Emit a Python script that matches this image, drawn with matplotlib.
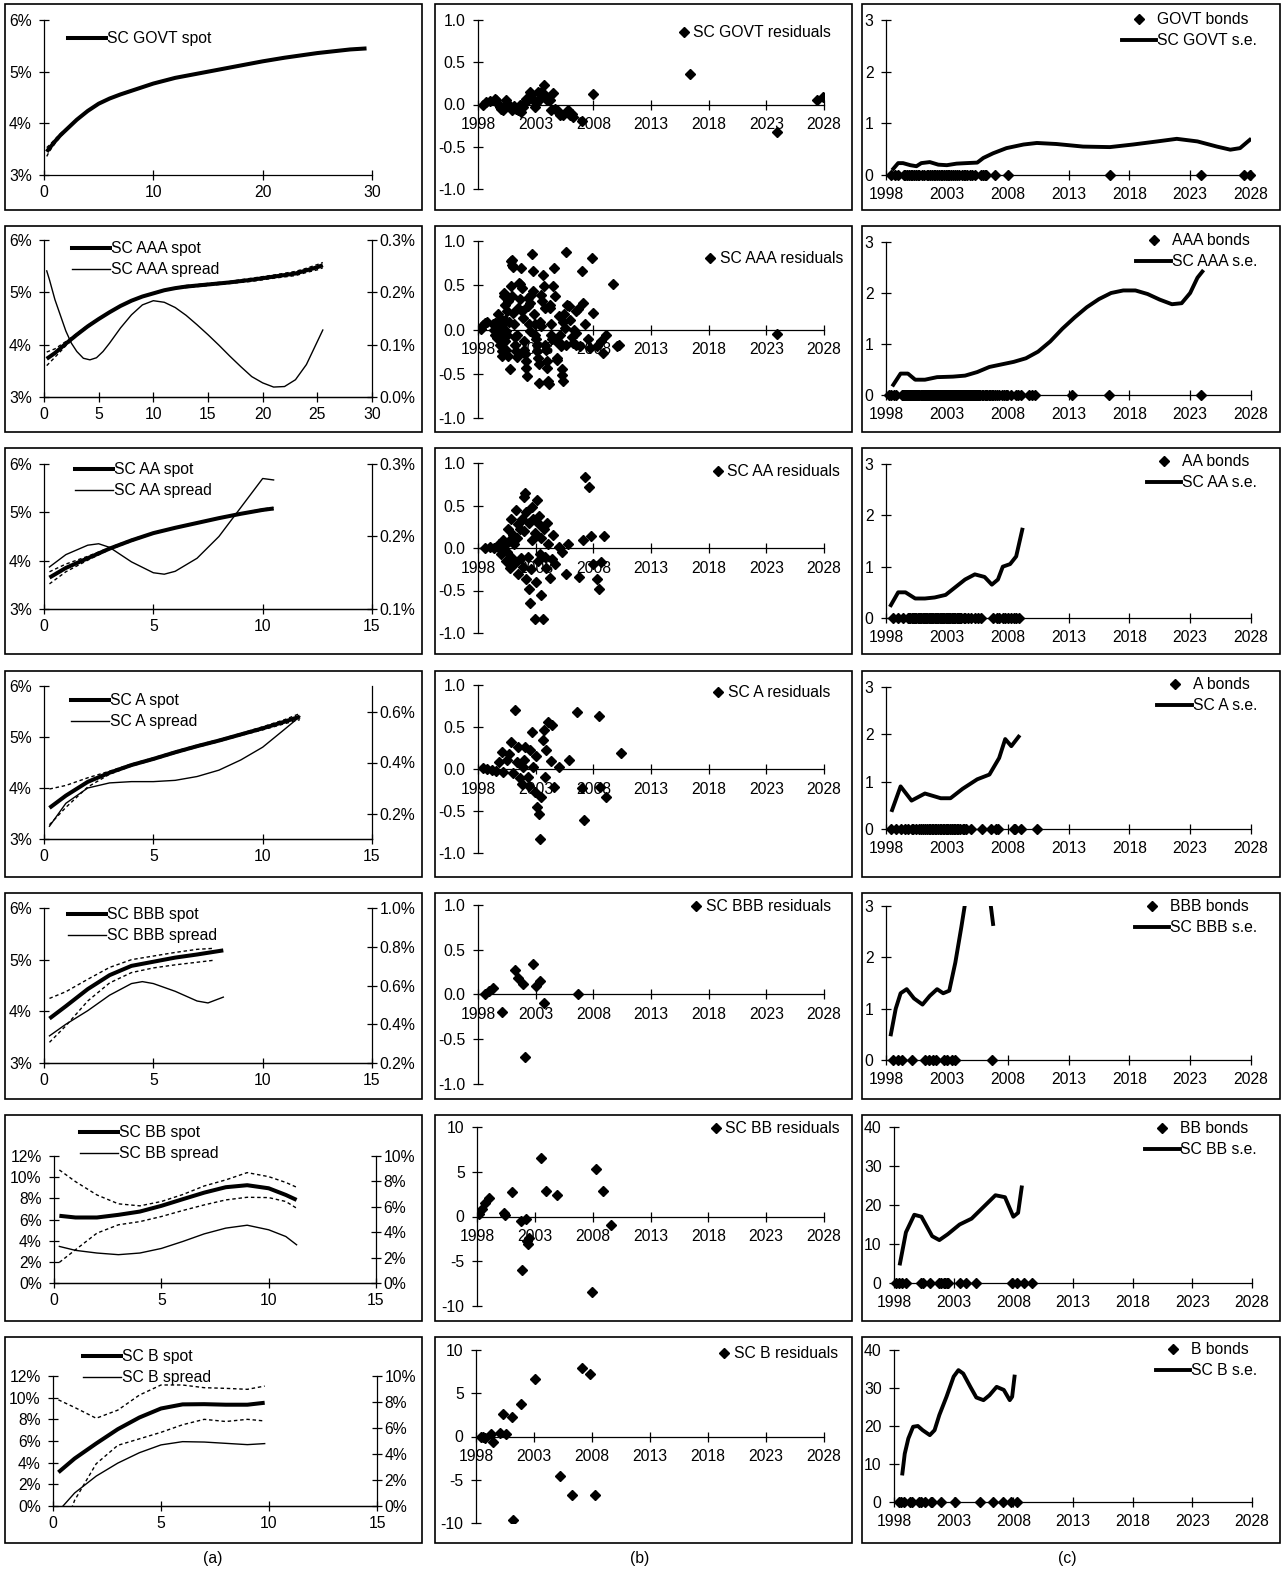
import matplotlib.pyplot as plt
from matplotlib.patches import Rectangle
from matplotlib.lines import Line2D
from matplotlib.ticker import FuncFormatter, MultipleLocator

plt.rcParams['font.family'] = ['Liberation Sans', 'DejaVu Sans']
plt.rcParams['axes.unicode_minus'] = False
FS = 11.3
MS = 5.6

# ---------------- (a) spot curves: maturity (years) vs rate (%) ----------------
govt_mat = [0.25, 0.5, 1, 1.5, 2, 3, 4, 5, 6, 7, 8, 10, 12, 15, 18, 20, 22, 25, 28, 29.5]
govt_spot = [3.45, 3.52, 3.65, 3.77, 3.87, 4.07, 4.24, 4.38, 4.48, 4.56, 4.63, 4.77, 4.88, 5.0, 5.12, 5.2, 5.27, 5.36, 5.43, 5.45]
govt_hi = [3.53, 3.58, 3.69, 3.80, 3.89, 4.08, 4.25, 4.39, 4.49, 4.57, 4.64, 4.78, 4.89, 5.01, 5.13, 5.21, 5.28, 5.37, 5.44, 5.46]
govt_lo = [3.36, 3.46, 3.61, 3.74, 3.85, 4.06, 4.23, 4.37, 4.47, 4.55, 4.62, 4.76, 4.87, 4.99, 5.11, 5.19, 5.26, 5.35, 5.42, 5.44]

aaa_mat = [0.25, 1, 2, 3, 4, 5, 6, 7, 8, 9, 10, 11, 12, 13, 15, 17, 19, 21, 23, 24, 25, 25.5]
aaa_spot = [3.73, 3.84, 4.02, 4.19, 4.35, 4.49, 4.62, 4.74, 4.84, 4.92, 4.98, 5.04, 5.08, 5.11, 5.15, 5.19, 5.24, 5.30, 5.36, 5.42, 5.48, 5.52]
aaa_hi = [3.86, 3.92, 4.06, 4.21, 4.37, 4.50, 4.63, 4.75, 4.85, 4.93, 4.99, 5.05, 5.09, 5.13, 5.17, 5.21, 5.27, 5.33, 5.40, 5.46, 5.53, 5.57]
aaa_lo = [3.60, 3.76, 3.98, 4.17, 4.33, 4.48, 4.61, 4.73, 4.83, 4.91, 4.97, 5.03, 5.07, 5.09, 5.13, 5.17, 5.21, 5.27, 5.32, 5.38, 5.43, 5.47]
aaa_spr_mat = [0.25, 0.5, 1, 2, 2.5, 3, 3.6, 4.2, 4.8, 5.4, 6, 7, 8, 9, 10, 11, 12, 13, 14, 15,
               16, 17, 18, 19, 20, 21, 22, 23, 24, 25, 25.5]
aaa_spread = [0.241, 0.224, 0.186, 0.126, 0.103, 0.087, 0.074, 0.071, 0.075, 0.087, 0.103, 0.132, 0.157, 0.176, 0.184,
              0.181, 0.171, 0.156, 0.138, 0.119, 0.099, 0.078, 0.058, 0.039, 0.027, 0.019, 0.02, 0.033, 0.062, 0.106, 0.128]

aa_mat = [0.25, 1, 2, 3, 4, 5, 6, 7, 8, 9, 10, 10.5]
aa_spot = [3.65, 3.85, 4.05, 4.25, 4.42, 4.57, 4.68, 4.78, 4.88, 4.97, 5.05, 5.08]
aa_hi = [3.77, 3.93, 4.09, 4.27, 4.44, 4.58, 4.69, 4.79, 4.89, 4.98, 5.07, 5.10]
aa_lo = [3.52, 3.77, 4.01, 4.23, 4.40, 4.56, 4.67, 4.77, 4.87, 4.96, 5.03, 5.06]
aa_spr_mat = [0.25, 1, 2, 2.5, 3, 4, 5, 5.5, 6, 7, 8, 9, 9.5, 10, 10.5]
aa_spread = [0.158, 0.175, 0.188, 0.19, 0.185, 0.165, 0.15, 0.148, 0.152, 0.17, 0.2, 0.24, 0.26, 0.28, 0.278]

a_mat = [0.25, 1, 2, 3, 4, 5, 6, 7, 8, 9, 10, 11, 11.7]
a_spot = [3.61, 3.85, 4.12, 4.3, 4.45, 4.57, 4.7, 4.82, 4.93, 5.05, 5.17, 5.3, 5.4]
a_hi = [3.98, 4.05, 4.2, 4.33, 4.47, 4.59, 4.72, 4.84, 4.95, 5.07, 5.2, 5.34, 5.46]
a_lo = [3.28, 3.62, 4.02, 4.27, 4.43, 4.55, 4.68, 4.8, 4.91, 5.03, 5.14, 5.26, 5.34]
a_spread = [0.15, 0.24, 0.3, 0.32, 0.325, 0.325, 0.33, 0.345, 0.37, 0.41, 0.46, 0.53, 0.58]

bbb_mat = [0.25, 1, 2, 3, 4, 5, 6, 7, 8.2]
bbb_spot = [3.86, 4.1, 4.43, 4.7, 4.88, 4.96, 5.04, 5.1, 5.18]
bbb_band_mat = [0.25, 1, 2, 3, 4, 5, 6, 7, 7.8]
bbb_hi = [4.25, 4.38, 4.62, 4.85, 5.0, 5.07, 5.14, 5.2, 5.22]
bbb_lo = [3.4, 3.72, 4.2, 4.55, 4.75, 4.84, 4.9, 4.95, 4.99]
bbb_spr_mat = [0.25, 1, 2, 3, 4, 4.5, 5, 6, 7, 7.5, 8.2]
bbb_spread = [0.34, 0.4, 0.47, 0.55, 0.61, 0.62, 0.61, 0.57, 0.52, 0.51, 0.54]

bb_mat = [0.25, 1, 2, 3, 4, 5, 6, 7, 8, 9, 10, 10.8, 11.3]
bb_spot = [6.35, 6.19, 6.19, 6.44, 6.75, 7.29, 7.92, 8.54, 9.05, 9.24, 8.95, 8.32, 7.85]
bb_hi = [10.68, 9.58, 8.32, 7.48, 7.29, 7.7, 8.36, 9.17, 9.74, 10.43, 10.05, 9.5, 9.05]
bb_lo = [1.95, 3.14, 4.71, 5.5, 5.8, 6.28, 6.85, 7.38, 7.85, 8.1, 8.07, 7.7, 7.07]
bb_spread = [2.88, 2.57, 2.36, 2.23, 2.36, 2.72, 3.27, 3.87, 4.32, 4.55, 4.19, 3.66, 3.01]

b_mat = [0.25, 1, 2, 3, 4, 5, 6, 7, 8, 9, 9.8]
b_spot = [3.11, 4.38, 5.77, 7.09, 8.17, 9.0, 9.38, 9.4, 9.35, 9.35, 9.53]
b_hi = [9.8, 9.1, 8.1, 8.85, 10.24, 11.17, 11.17, 10.92, 10.86, 10.77, 11.07]
b_lo = [-3.5, 0.52, 3.9, 5.6, 6.2, 6.8, 7.5, 8.0, 7.8, 8.0, 7.85]
b_spread = [-0.4, 1.0, 2.3, 3.3, 4.1, 4.7, 4.95, 4.92, 4.82, 4.72, 4.8]

# ---------------- (b) residuals by maturity date ----------------
govt_res_yr = [1998.43, 1998.72, 1999.01, 1999.45, 1999.59, 1999.74, 1999.88, 2000.03, 2000.17, 2000.32,
               2000.46, 2000.61, 2000.75, 2000.95, 2001.13, 2001.33, 2001.48, 2001.62, 2001.76, 2001.94,
               2002.05, 2002.2, 2002.34, 2002.49, 2002.63, 2002.78, 2002.92, 2003.07, 2003.21, 2003.36,
               2003.5, 2003.71, 2003.85, 2004.02, 2004.23, 2004.37, 2004.52, 2004.66, 2004.89, 2005.1,
               2005.33, 2005.82, 2005.96, 2006.11, 2006.25, 2006.98, 2007.99, 2016.39, 2023.92, 2027.39, 2027.89]
govt_res = [0.0, 0.03, 0.04, 0.07, 0.05, 0.01, -0.03, -0.05, -0.07, -0.01,
            0.05, 0.01, -0.03, -0.07, -0.02, -0.05, -0.07, -0.01, -0.09, -0.03,
            0.03, 0.07, 0.05, 0.15, 0.11, 0.07, -0.03, 0.02, 0.15, 0.07,
            0.15, 0.23, 0.11, 0.05, 0.05, -0.07, 0.14, -0.05, -0.06, -0.13,
            -0.13, -0.07, -0.13, -0.11, -0.15, -0.19, 0.12, 0.36, -0.32, 0.05, 0.09]

aaa_res_yr = [1998.23, 1998.43, 1998.64, 1998.81, 1999.3, 1999.39, 1999.45, 1999.51, 1999.56, 1999.62,
              1999.68, 1999.71, 1999.77, 1999.82, 1999.85, 1999.91, 1999.97, 2000.0, 2000.06, 2000.11,
              2000.14, 2000.2, 2000.26, 2000.29, 2000.32, 2000.35, 2000.37, 2000.43, 2000.46, 2000.52,
              2000.55, 2000.61, 2000.64, 2000.69, 2000.75, 2000.84, 2000.92, 2000.98, 2001.04, 2000.9,
              2000.95, 2001.07, 2001.13, 2001.19, 2001.24, 2001.3, 2001.36, 2001.42, 2001.48, 2001.53,
              2001.62, 2001.68, 2001.74, 2001.79, 2001.85, 2001.91, 2001.97, 2002.03, 2002.08, 2002.14,
              2002.2, 2002.26, 2002.32, 2002.37, 2002.43, 2002.49, 2002.55, 2002.6, 2002.69, 2002.75,
              2002.81, 2002.87, 2002.92, 2002.98, 2003.04, 2003.1, 2003.15, 2003.21, 2003.27, 2003.33,
              2003.39, 2003.44, 2003.5, 2003.56, 2003.65, 2003.73, 2003.79, 2003.85, 2003.91, 2003.97,
              2004.02, 2004.08, 2004.14, 2004.2, 2004.26, 2004.31, 2004.37, 2004.43, 2004.52, 2004.6,
              2004.66, 2004.72, 2004.81, 2004.89, 2005.01, 2005.07, 2005.12, 2005.18, 2005.24, 2005.3,
              2005.36, 2005.41, 2005.47, 2005.53, 2005.59, 2005.67, 2005.76, 2005.88, 2005.99, 2006.11,
              2006.22, 2006.34, 2006.46, 2006.54, 2006.69, 2006.54, 2006.83, 2006.98, 2007.12, 2007.27,
              2007.56, 2007.7, 2007.85, 2007.93, 2008.28, 2008.66, 2008.85, 2009.06, 2009.73, 2010.02,
              2010.22, 2023.92]
aaa_res = [0.01, 0.05, 0.07, 0.09, 0.06, -0.01, 0.07, -0.06, 0.02, -0.10,
           -0.04, 0.09, 0.17, -0.11, 0.04, -0.17, 0.12, -0.01, -0.24, -0.30,
           -0.06, 0.06, 0.41, 0.38, 0.28, -0.13, 0.11, -0.23, -0.02, 0.21,
           -0.06, 0.32, -0.30, 0.09, -0.45, 0.77, 0.79, 0.73, 0.71, 0.49,
           0.38, 0.19, 0.06, -0.09, -0.17, -0.24, -0.31, -0.06, 0.24, 0.53,
           0.51, 0.34, 0.70, 0.47, 0.21, 0.13, -0.13, -0.23, -0.28, -0.36,
           -0.43, -0.53, 0.36, 0.26, 0.06, -0.02, 0.30, 0.39, 0.85, 0.66,
           0.43, 0.17, 0.06, -0.06, -0.11, -0.17, -0.24, -0.32, -0.39, -0.60,
           0.08, 0.04, 0.39, 0.32, 0.62, 0.49, 0.24, -0.17, -0.23, -0.36,
           -0.43, -0.58, -0.62, 0.24, 0.28, 0.06, -0.06, -0.11, 0.49, 0.70,
           0.38, -0.13, -0.32, -0.34, 0.15, -0.06, -0.15, -0.19, -0.45, -0.51,
           -0.58, 0.09, 0.17, 0.02, -0.17, 0.88, 0.28, 0.26, 0.11, -0.09,
           -0.15, 0.0, -0.04, 0.21, 0.23, -0.17, -0.19, 0.66, 0.30, 0.06,
           -0.11, -0.21, 0.81, 0.19, -0.19, -0.13, -0.26, -0.06, 0.51, -0.19,
           -0.17, -0.05]

aa_res_yr = [1998.6, 1999.0, 1999.4, 1999.8, 2000.0, 2000.2, 2000.4, 2000.6, 2000.8, 2000.9,
             2001.1, 2001.3, 2001.5, 2001.6, 2001.8, 2002.0, 2002.1, 2002.2, 2002.4, 2002.5,
             2002.7, 2002.8, 2002.9, 2003.1, 2003.3, 2003.4, 2003.6, 2003.7, 2003.9, 2004.1,
             2004.4, 2004.7, 2005.0, 2005.6, 2006.8, 2007.1, 2007.3, 2007.6, 2007.8, 2008.0,
             2008.3, 2008.5, 2008.9, 2008.7, 1999.9, 2000.1, 2000.3, 2000.5, 2000.7, 2000.9,
             2001.0, 2001.2, 2001.4, 2001.5, 2001.7, 2001.9, 2002.0, 2002.2, 2002.3, 2002.4,
             2002.6, 2002.7, 2002.9, 2003.0, 2003.2, 2003.3, 2003.5, 2003.5, 2003.8, 2004.0,
             2004.2, 2004.5, 2005.3, 2005.8]
aa_res = [0.0, 0.01, 0.0, 0.05, -0.07, 0.10, -0.15, 0.22, -0.24, 0.34,
          0.05, 0.45, -0.30, 0.22, 0.34, 0.60, 0.65, -0.36, -0.48, -0.65,
          0.10, 0.34, -0.83, 0.57, 0.28, -0.07, -0.83, 0.22, -0.24, 0.05,
          -0.13, -0.19, 0.01, -0.30, -0.34, 0.10, 0.83, 0.72, 0.14, -0.19,
          -0.36, -0.48, 0.14, -0.16, 0.02, -0.03, 0.04, -0.05, 0.08, -0.10,
          0.15, -0.18, 0.12, 0.28, -0.12, -0.22, 0.20, 0.42, -0.10, 0.30,
          -0.25, 0.48, 0.18, -0.40, -0.15, 0.38, 0.12, -0.55, -0.10, 0.30,
          -0.35, 0.15, -0.05, 0.05]

a_res_yr = [1998.4, 1998.8, 1999.2, 1999.6, 1999.8, 2000.1, 2000.2, 2000.5, 2000.7, 2000.9,
            2001.2, 2001.4, 2001.5, 2001.6, 2001.8, 2002.0, 2002.1, 2002.3, 2002.5, 2002.7,
            2002.8, 2002.9, 2003.1, 2003.3, 2003.4, 2003.45, 2003.6, 2003.7, 2003.9, 2004.1,
            2004.4, 2004.6, 2005.9, 2006.6, 2007.0, 2007.2, 2008.5, 2008.6, 2009.1, 2010.4,
            2001.0, 2001.9, 2002.4, 2003.0, 2003.8, 2004.3, 2005.0]
a_res = [0.01, 0.0, -0.01, -0.02, 0.08, 0.2, -0.04, 0.11, 0.18, 0.32,
         0.70, 0.08, 0.26, -0.11, -0.18, 0.11, 0.26, -0.10, 0.23, 0.44,
         0.02, -0.27, -0.45, -0.54, -0.83, -0.33, 0.35, 0.46, 0.23, 0.56,
         0.52, -0.21, 0.11, 0.68, -0.23, -0.61, 0.63, -0.21, -0.33, 0.19,
         -0.05, 0.02, -0.2, 0.15, -0.1, 0.1, 0.02]

bbb_res_yr = [1998.6, 1998.95, 1999.3, 2000.1, 2001.2, 2001.5, 2001.9, 2002.1, 2002.8, 2003.0, 2003.4, 2003.7, 2006.7]
bbb_res = [0.01, 0.04, 0.07, -0.2, 0.27, 0.18, 0.12, -0.7, 0.34, 0.10, 0.15, -0.09, 0.01]

bb_res_yr = [1998.2, 1998.4, 1998.7, 1999.0, 2000.3, 2000.4, 2001.0, 2001.8, 2002.2, 2002.3,
             2002.4, 2002.5, 2001.9, 2003.5, 2004.0, 2004.9, 2008.3, 2008.9, 2009.6, 2007.9]
bb_res = [0.3, 0.8, 1.5, 2.1, 0.4, 0.2, 2.7, -0.5, -0.3, -2.7,
          -3.1, -2.4, -6.0, 6.5, 2.8, 2.4, 5.3, 2.8, -1.0, -8.4]

b_res_yr = [1998.4, 1998.6, 1998.8, 1999.3, 1999.5, 2000.1, 2000.3, 2000.6, 2001.1, 2001.2,
            2001.9, 2003.1, 2005.2, 2006.3, 2007.1, 2007.8, 2008.3]
b_res = [0.0, -0.1, -0.2, 0.3, -0.6, 0.4, 2.6, 0.3, 2.2, -9.7,
         3.7, 6.7, -4.6, -6.8, 7.9, 7.2, -6.8]

# ---------------- (c) standard errors by date ----------------
govt_se_yr = [1998.6, 1999.0, 1999.4, 2000.0, 2000.5, 2000.9, 2001.6, 2002.3, 2003.0, 2003.8, 2004.6, 2005.5,
              2006.0, 2006.8, 2007.9, 2009.3, 2010.4, 2012.0, 2014.2, 2016.4, 2018.3, 2020.3, 2021.9, 2023.6,
              2025.2, 2026.3, 2027.1, 2027.9]
govt_se = [0.12, 0.23, 0.23, 0.19, 0.17, 0.23, 0.25, 0.20, 0.19, 0.22, 0.23, 0.24,
           0.33, 0.42, 0.52, 0.59, 0.62, 0.60, 0.55, 0.54, 0.59, 0.65, 0.70, 0.65,
           0.55, 0.49, 0.52, 0.68]
aaa_se_yr = [1998.6, 1999.2, 1999.8, 2000.4, 2001.2, 2002.2, 2003.5, 2004.5, 2005.5, 2006.5, 2007.5, 2008.5,
             2009.5, 2010.5, 2011.5, 2012.5, 2013.5, 2014.5, 2015.5, 2016.5, 2017.5, 2018.5, 2019.5, 2020.5,
             2021.5, 2022.3, 2023.0, 2023.6, 2024.0]
aaa_se = [0.2, 0.42, 0.42, 0.3, 0.3, 0.35, 0.36, 0.38, 0.45, 0.55, 0.6, 0.65,
          0.72, 0.85, 1.05, 1.3, 1.52, 1.72, 1.88, 2.0, 2.05, 2.05, 1.98, 1.87,
          1.78, 1.8, 2.0, 2.3, 2.42]
aaa_bond_extra = [2013.3, 2016.3]
aa_se_yr = [1998.4, 1999.0, 1999.6, 2000.4, 2001.2, 2002.0, 2002.9, 2003.7, 2004.5, 2005.3, 2006.1, 2006.7,
            2007.2, 2007.6, 2008.2, 2008.7, 2009.2]
aa_se = [0.25, 0.5, 0.5, 0.38, 0.38, 0.4, 0.45, 0.6, 0.75, 0.85, 0.8, 0.65, 0.75, 1.0, 1.05, 1.2, 1.72]
a_se_yr = [1998.5, 1999.2, 2000.1, 2001.2, 2002.5, 2003.3, 2004.3, 2005.5, 2006.5, 2007.3, 2007.8, 2008.3,
           2008.9]
a_se = [0.4, 0.9, 0.6, 0.75, 0.65, 0.65, 0.85, 1.05, 1.15, 1.5, 1.9, 1.75, 1.95]
bbb_se_yr = [1998.4, 1998.8, 1999.2, 1999.7, 2000.3, 2001.0, 2001.6, 2002.2, 2002.7, 2003.2, 2003.7, 2004.2,
             2004.6, 2005.5, 2006.3, 2006.8]
bbb_se = [0.5, 1.0, 1.3, 1.38, 1.2, 1.08, 1.25, 1.38, 1.3, 1.35, 1.9, 2.6, 3.2, 4.5, 3.6, 2.65]
bb_se_yr = [1998.5, 1999.0, 1999.7, 2000.3, 2001.2, 2001.8, 2002.5, 2003.5, 2004.5, 2005.5, 2006.5, 2007.3,
            2008.0, 2008.4, 2008.7]
bb_se = [5, 13, 17.5, 17, 12, 11, 12.5, 15, 16.5, 19.5, 22.5, 22, 17, 18, 24.5]
b_se_yr = [1998.7, 1998.9, 1999.2, 1999.6, 2000.0, 2000.4, 2001.0, 2001.4, 2001.8, 2002.4, 2003.0, 2003.4,
           2003.8, 2004.4, 2004.9, 2005.5, 2006.0, 2006.6, 2007.2, 2007.7, 2007.9, 2008.1]
b_se = [7.5, 12.7, 16.7, 19.8, 20, 18.9, 17.6, 18.9, 22.9, 27.7, 33, 34.7,
        33.8, 30.3, 27.5, 26.8, 28.1, 30.3, 29.5, 26.8, 27.7, 33]

year_ticks = [1998, 2003, 2008, 2013, 2018, 2023, 2028]

# ---------------- layout (pixels) ----------------
W, H = 1282, 1573
fig = plt.figure(figsize=(W / 100, H / 100), dpi=100)

box_cols = [(5, 422), (435, 852), (862, 1280)]
box_tops = [4 + 222.2 * i for i in range(7)]
box_h = 206

col1_area = [(44, 20, 372, 175), (44, 240, 372, 397), (44, 464, 372, 609), (44, 686, 372, 839),
             (44, 908, 372, 1063), (54, 1156, 376, 1283), (53, 1376, 377, 1506)]
col2_area = [(478, 20, 824, 189), (478, 241, 824, 418), (478, 463, 824, 633), (478, 685, 824, 853),
             (478, 905, 824, 1084), (477, 1127, 824, 1306), (476, 1350, 824, 1523)]
col3_area = [(886, 20, 1251, 175), (886, 242, 1251, 395), (886, 464, 1251, 618), (886, 687, 1251, 829),
             (886, 906, 1251, 1060), (894, 1127, 1252, 1283), (894, 1350, 1252, 1502)]

leg1_pos = [(68, 31), (72, 241), (75, 462), (71, 693), (68, 907), (80, 1125), (83, 1349)]
leg2_pos = [(831, 25), (843, 251), (840, 464), (830, 685), (831, 899), (840, 1121), (838, 1346)]
leg3_pos = [(1257, 12), (1257, 233), (1257, 454), (1257, 677), (1257, 899), (1257, 1121), (1257, 1342)]


def axes_px(area):
    x0, y0, x1, y1 = area
    return fig.add_axes([x0 / W, 1 - y1 / H, (x1 - x0) / W, (y1 - y0) / H])


def excel_style(ax, right=False):
    ax.patch.set_visible(False)
    ax.spines['top'].set_visible(False)
    ax.spines['right'].set_visible(right)
    ax.spines['left'].set_visible(not right)
    for s in ax.spines.values():
        s.set_linewidth(0.9)
    ax.tick_params(direction='inout', length=6.7, width=0.9, labelsize=FS, colors='black')
    ax.tick_params(axis='y', pad=5.5)
    ax.tick_params(axis='x', pad=4)


def put_legend(ax, handles, labels, pos, loc, hl, tp):
    x, y = pos
    ax.legend(handles, labels, loc=loc, bbox_to_anchor=(x / W, 1 - y / H), bbox_transform=fig.transFigure,
              frameon=False, borderpad=0, borderaxespad=0, handlelength=hl, handletextpad=tp,
              labelspacing=0.4, fontsize=FS)


for col in range(3):
    for row in range(7):
        x0, x1 = box_cols[col]
        y0 = box_tops[row]
        fig.add_artist(Rectangle((x0 / W, 1 - (y0 + box_h) / H), (x1 - x0) / W, box_h / H,
                                 transform=fig.transFigure, fill=False, lw=1.2, ec='black'))

# ---------------- column (a) ----------------
curves = [
    ('GOVT', govt_mat, govt_spot, govt_mat, govt_hi, govt_lo, None, None, 30, 10, (3, 6, 1), None),
    ('AAA', aaa_mat, aaa_spot, aaa_mat, aaa_hi, aaa_lo, aaa_spr_mat, aaa_spread, 30, 5, (3, 6, 1), (0.0, 0.3, 0.1)),
    ('AA', aa_mat, aa_spot, aa_mat, aa_hi, aa_lo, aa_spr_mat, aa_spread, 15, 5, (3, 6, 1), (0.1, 0.3, 0.1)),
    ('A', a_mat, a_spot, a_mat, a_hi, a_lo, a_mat, a_spread, 15, 5, (3, 6, 1), (0.1, 0.7, 0.2)),
    ('BBB', bbb_mat, bbb_spot, bbb_band_mat, bbb_hi, bbb_lo, bbb_spr_mat, bbb_spread, 15, 5, (3, 6, 1), (0.2, 1.0, 0.2)),
    ('BB', bb_mat, bb_spot, bb_mat, bb_hi, bb_lo, bb_mat, bb_spread, 15, 5, (0, 12, 2), (0, 10, 2)),
    ('B', b_mat, b_spot, b_mat, b_hi, b_lo, b_mat, b_spread, 15, 5, (0, 12, 2), (0, 10, 2)),
]

for row, (name, mat, spot, bmat, hi, lo, smat, spread, xmax, xstep, yl, yl2) in enumerate(curves):
    ax = axes_px(col1_area[row])
    excel_style(ax)
    ax.plot(bmat, hi, color='black', lw=1.0, ls=(0, (2.5, 2)))
    ax.plot(bmat, lo, color='black', lw=1.0, ls=(0, (2.5, 2)))
    ax.plot(mat, spot, color='black', lw=2.9, solid_capstyle='butt')
    ax.set_xlim(0, xmax)
    ax.xaxis.set_major_locator(MultipleLocator(xstep))
    ax.set_ylim(yl[0], yl[1])
    ax.yaxis.set_major_locator(MultipleLocator(yl[2]))
    ax.yaxis.set_major_formatter(FuncFormatter(lambda v, p: '{:.0f}%'.format(v)))
    handles = [Line2D([], [], color='black', lw=2.9)]
    labels = ['SC %s spot' % name]
    top = ax
    if spread is not None:
        ax2 = ax.twinx()
        excel_style(ax2, right=True)
        ax2.tick_params(axis='y', pad=2)
        ax2.plot(smat, spread, color='black', lw=1.0)
        ax2.set_ylim(yl2[0], yl2[1])
        ax2.yaxis.set_major_locator(MultipleLocator(yl2[2]))
        fmt = '{:.1f}%' if yl2[1] < 5 else '{:.0f}%'
        ax2.yaxis.set_major_formatter(FuncFormatter(lambda v, p, f=fmt: f.format(v)))
        handles.append(Line2D([], [], color='black', lw=1.0))
        labels.append('SC %s spread' % name)
        top = ax2
    put_legend(top, handles, labels, leg1_pos[row], 'upper left', 2.45, 0.05)

# ---------------- column (b) ----------------
residuals = [
    ('GOVT', govt_res_yr, govt_res, 1.0), ('AAA', aaa_res_yr, aaa_res, 1.0), ('AA', aa_res_yr, aa_res, 1.0),
    ('A', a_res_yr, a_res, 1.0), ('BBB', bbb_res_yr, bbb_res, 1.0), ('BB', bb_res_yr, bb_res, 10),
    ('B', b_res_yr, b_res, 10),
]

for row, (name, yrs, res, lim) in enumerate(residuals):
    ax = axes_px(col2_area[row])
    excel_style(ax)
    ax.spines['bottom'].set_position(('data', 0))
    ax.tick_params(axis='x', pad=6)
    ax.plot(yrs, res, ls='none', marker='D', ms=MS, color='black')
    ax.set_xlim(1998, 2028)
    ax.set_xticks(year_ticks)
    ax.set_ylim(-lim, lim)
    ax.yaxis.set_major_locator(MultipleLocator(lim / 2))
    fmt = '{:.1f}' if lim < 5 else '{:.0f}'
    ax.yaxis.set_major_formatter(FuncFormatter(lambda v, p, f=fmt: f.format(v)))
    h = Line2D([], [], ls='none', marker='D', ms=MS, color='black')
    put_legend(ax, [h], ['SC %s residuals' % name], leg2_pos[row], 'upper right', 0.8, 0.2)

# ---------------- column (c) ----------------
errors = [
    ('GOVT', govt_se_yr, govt_se, govt_res_yr, 3), ('AAA', aaa_se_yr, aaa_se, aaa_res_yr + aaa_bond_extra, 3),
    ('AA', aa_se_yr, aa_se, aa_res_yr, 3), ('A', a_se_yr, a_se, a_res_yr, 3),
    ('BBB', bbb_se_yr, bbb_se, bbb_res_yr, 3), ('BB', bb_se_yr, bb_se, bb_res_yr, 40),
    ('B', b_se_yr, b_se, b_res_yr, 40),
]

for row, (name, yrs, se, bonds, top) in enumerate(errors):
    ax = axes_px(col3_area[row])
    excel_style(ax)
    ax.tick_params(axis='x', pad=5)
    ax.plot(bonds, [0] * len(bonds), ls='none', marker='D', ms=MS, color='black', clip_on=False, zorder=3)
    ax.plot(yrs, se, color='black', lw=2.8)
    ax.set_xlim(1998, 2028)
    ax.set_xticks(year_ticks)
    ax.set_ylim(0, top)
    ax.yaxis.set_major_locator(MultipleLocator(1 if top < 5 else 10))
    hb = Line2D([], [], ls='none', marker='D', ms=MS, color='black')
    hl = Line2D([], [], color='black', lw=2.8)
    put_legend(ax, [hb, hl], ['%s bonds' % name, 'SC %s s.e.' % name], leg3_pos[row], 'upper right', 2.2, 0.05)

for x, lab in [(213, '(a)'), (640, '(b)'), (1067, '(c)')]:
    fig.text(x / W, 1 - 1558 / H, lab, ha='center', va='center', fontsize=FS)

fig.savefig('out.png', dpi=100)
